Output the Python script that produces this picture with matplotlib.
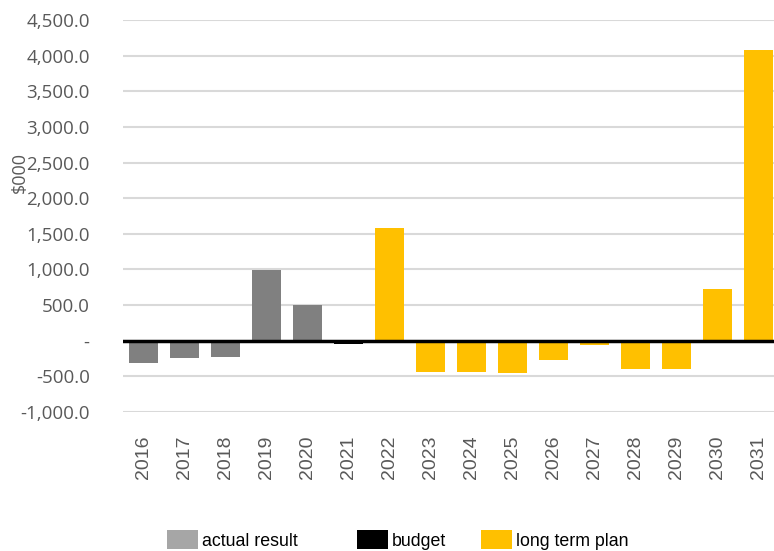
import matplotlib
matplotlib.use("Agg")
import matplotlib.pyplot as plt
from matplotlib.patches import Patch
from matplotlib.ticker import FuncFormatter

years = ["2016", "2017", "2018", "2019", "2020", "2021", "2022", "2023",
         "2024", "2025", "2026", "2027", "2028", "2029", "2030", "2031"]
values = [-315, -245, -232, 990, 505, -48, 1580, -437,
          -442, -451, -268, -55, -395, -400, 728, 4080]
kinds = ["actual", "actual", "actual", "actual", "actual", "budget", "plan", "plan",
         "plan", "plan", "plan", "plan", "plan", "plan", "plan", "plan"]
legend_labels = ["actual result", "budget", "long term plan"]
y_ticks = [-1000, -500, 0, 500, 1000, 1500, 2000, 2500, 3000, 3500, 4000, 4500]

bar_colors = {"actual": "#808080", "budget": "#000000", "plan": "#FFC000"}
legend_colors = ["#A6A6A6", "#000000", "#FFC000"]

W, H = 774, 551
fig = plt.figure(figsize=(W / 100, H / 100), dpi=100)
left, right = 123, 779
top, bottom = 20, 412
ax = fig.add_axes([left / W, 1 - bottom / H, (right - left) / W, (bottom - top) / H])

x = list(range(len(years)))
ax.bar(x, values, width=0.73, color=[bar_colors[k] for k in kinds], zorder=3)

ax.set_xlim(-0.5, len(years) - 0.5)
ax.set_ylim(-1000, 4500)
ax.set_yticks(y_ticks)
ax.yaxis.set_major_formatter(FuncFormatter(lambda v, p: "-" if v == 0 else f"{v:,.1f}"))
ax.grid(axis="y", color="#D9D9D9", linewidth=1.5, zorder=0)
ax.axhline(0, color="#000000", linewidth=2.5, zorder=4)
for s in ax.spines.values():
    s.set_visible(False)
ax.tick_params(axis="y", length=0, pad=24, labelsize=13.5, labelcolor="#595959")
for t in ax.get_yticklabels():
    t.set_fontfamily("Open Sans")
ax.set_xticks(x)
ax.set_xticklabels(years, rotation=90, fontsize=14, color="#595959", fontfamily="Liberation Sans")
ax.tick_params(axis="x", length=0, pad=17)

fig.text(20 / W, 1 - 172 / H, "$000", rotation=90, ha="center", va="center",
         fontsize=13, color="#595959", fontfamily="Open Sans")

legend_x = [167, 357, 481]
for lx, lab, col in zip(legend_x, legend_labels, legend_colors):
    leg = fig.legend([Patch(facecolor=col, edgecolor="none")], [lab], loc="center left",
                     bbox_to_anchor=(lx / W, 1 - 540 / H), frameon=False,
                     prop={"family": "Liberation Sans", "size": 12.8},
                     handlelength=1.75, handleheight=1.25, handletextpad=0.2,
                     borderpad=0, borderaxespad=0)
    for t in leg.get_texts():
        t.set_color("#000000")

fig.savefig("out.png", dpi=100)
